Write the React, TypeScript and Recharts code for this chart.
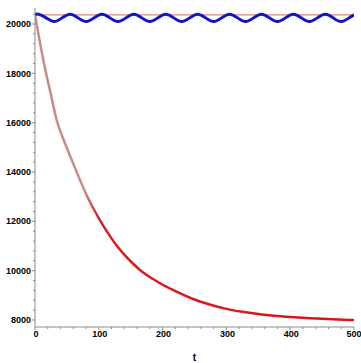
import React from 'react';
import { LineChart, Line, XAxis, YAxis } from 'recharts';

const decayT = [0, 5, 10, 17, 24, 34, 45, 55, 65, 83, 92, 104, 115, 127, 140, 153, 166, 185, 200, 216, 250, 275, 300, 325, 350, 375, 400, 425, 450, 475, 500];
const decayV = [20380, 19650, 18950, 18050, 17250, 16100, 15300, 14650, 14020, 12950, 12500, 11950, 11500, 11050, 10650, 10300, 10000, 9660, 9430, 9220, 8830, 8620, 8450, 8330, 8240, 8170, 8120, 8080, 8050, 8020, 7995];

const waveT = [0, 5, 17.5, 30, 42.5, 55, 67.5, 80, 92.5, 105, 117.5, 130, 142.5, 155, 167.5, 180, 192.5, 205, 217.5, 230, 242.5, 255, 267.5, 280, 292.5, 305, 317.5, 330, 342.5, 355, 367.5, 380, 392.5, 405, 417.5, 430, 442.5, 455, 467.5, 480, 492.5, 500];
const waveV = [20370, 20400, 20250, 20100, 20250, 20400, 20250, 20100, 20250, 20400, 20250, 20100, 20250, 20400, 20250, 20100, 20250, 20400, 20250, 20100, 20250, 20400, 20250, 20100, 20250, 20400, 20250, 20100, 20250, 20400, 20250, 20100, 20250, 20400, 20250, 20100, 20250, 20400, 20250, 20100, 20250, 20370];

const levelT = [0, 500];
const levelV = [20370, 20370];

const xTicks = Array.from({ length: 26 }, (_, i) => i * 20);
const yTicks = Array.from({ length: 32 }, (_, i) => 8000 + i * 400).filter((v) => v <= 20600);

const decayData = decayT.map((t, i) => ({ t, v: decayV[i] }));
const waveData = waveT.map((t, i) => ({ t, v: waveV[i] }));
const levelData = levelT.map((t, i) => ({ t, v: levelV[i] }));

const AXIS = '#8a8a8a';
const FONT = '"Liberation Sans", Arial, sans-serif';

const YTick = (props: any) => {
  const { x, y, payload } = props;
  const major = payload.value % 2000 === 0;
  return (
    <g>
      <line x1={x - (major ? 3 : 2)} x2={x} y1={y} y2={y} stroke={AXIS} strokeWidth={1} />
      {major && (
        <text x={x - 4} y={y} dy="0.35em" textAnchor="end" fontFamily={FONT} fontSize={9} fontWeight="bold" fill="#000">
          {payload.value}
        </text>
      )}
    </g>
  );
};

const XTick = (props: any) => {
  const { x, y, payload } = props;
  const major = payload.value % 100 === 0;
  return (
    <g>
      <line x1={x} x2={x} y1={y} y2={y + (major ? 3 : 2)} stroke={AXIS} strokeWidth={1} />
      {major && (
        <text x={payload.value === 500 ? x : x + 1} y={y + 7} dy="0.35em" textAnchor="middle" fontFamily={FONT} fontSize={9} fontWeight="bold" fill="#000">
          {payload.value}
        </text>
      )}
    </g>
  );
};

export default function App() {
  return (
    <div style={{ position: 'absolute', left: 0, top: 0, background: '#fff' }}>
      <LineChart width={361} height={363} margin={{ top: 8, right: 7, bottom: 0, left: 0 }}>
        <defs>
          <linearGradient id="decayGrad" gradientUnits="userSpaceOnUse" x1="0" y1="0" x2="0" y2="363">
            <stop offset="0" stopColor="#c98c8c" />
            <stop offset="0.53" stopColor="#c98c8c" />
            <stop offset="0.6" stopColor="#d62020" />
            <stop offset="1" stopColor="#dd1111" />
          </linearGradient>
        </defs>
        <XAxis
          dataKey="t"
          type="number"
          domain={[0, 500]}
          ticks={xTicks}
          interval={0}
          height={36}
          tickSize={0}
          tickMargin={0}
          tickLine={false}
          axisLine={{ stroke: AXIS }}
          tick={<XTick />}
          allowDataOverflow
          label={{ value: 't', position: 'insideBottom', offset: 2, fontFamily: FONT, fontSize: 10, fontWeight: 'bold', fill: '#000' }}
        />
        <YAxis
          dataKey="v"
          type="number"
          domain={[7716, 20650]}
          ticks={yTicks}
          interval={0}
          width={35}
          tickSize={0}
          tickMargin={0}
          tickLine={false}
          axisLine={{ stroke: AXIS }}
          tick={<YTick />}
          allowDataOverflow
        />
        <Line data={levelData} dataKey="v" type="linear" stroke="#d06a5a" strokeWidth={1} dot={false} isAnimationActive={false} />
        <Line data={decayData} dataKey="v" type="monotone" stroke="url(#decayGrad)" strokeWidth={2.5} dot={false} isAnimationActive={false} />
        <Line data={waveData} dataKey="v" type="natural" stroke="#1414c8" strokeWidth={3} dot={false} isAnimationActive={false} />
      </LineChart>
    </div>
  );
}
